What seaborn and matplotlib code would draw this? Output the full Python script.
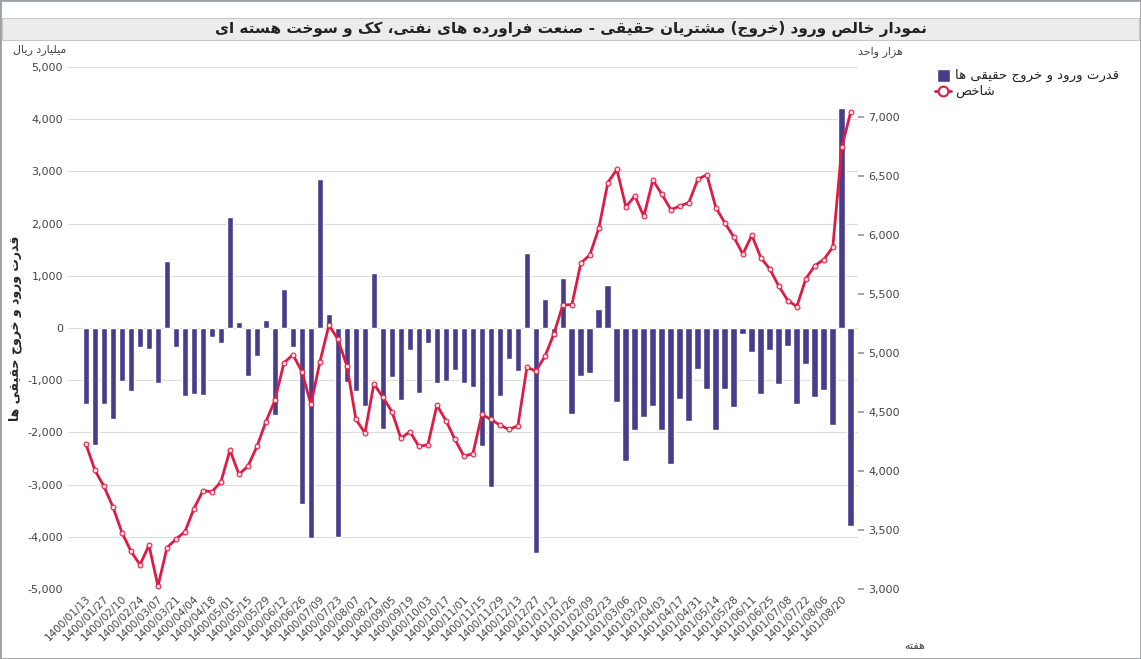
import numpy as np
import pandas as pd
import matplotlib
matplotlib.use("Agg")
import matplotlib.pyplot as plt
from matplotlib.patches import Rectangle
import seaborn as sns

flows = [-1450,-2235,-1450,-1735,-1010,-1215,-370,-400,-1045,1285,-355,-1310,-1260,-1285,-165,-285,
         2120,110,-915,-545,155,-1665,740,-355,-3365,-4030,2855,275,-4010,-1025,-1215,-1490,1045,
         -1930,-945,-1380,-425,-1245,-285,-1050,-1010,-805,-1050,-1125,-2255,-3040,-1305,-595,-825,
         1430,-4305,550,-170,950,-1650,-925,-855,360,815,-1415,-2545,-1950,-1700,-1490,-1950,-2610,
         -1355,-1785,-785,-1170,-1950,-1170,-1505,-115,-460,-1265,-420,-1070,-350,-1450,-690,-1320,
         -1195,-1855,4215,-3790]
index_vals = [4226,4005,3869,3694,3477,3320,3205,3371,3024,3350,3423,3486,3682,3833,3824,3909,
              4177,3972,4041,4208,4419,4600,4917,4986,4841,4564,4926,5237,5116,4890,4437,4322,4739,
              4624,4503,4277,4334,4208,4223,4558,4428,4268,4126,4147,4479,4437,4389,4352,4383,4878,
              4848,4971,5162,5409,5409,5762,5832,6058,6445,6556,6239,6330,6158,6466,6345,6215,6245,
              6275,6472,6511,6233,6103,5983,5838,5998,5808,5711,5566,5445,5394,5629,5741,5792,5898,
              6746,7045]
tick_labels = ["1400/01/13","1400/01/27","1400/02/10","1400/02/24","1400/03/07","1400/03/21",
               "1400/04/04","1400/04/18","1400/05/01","1400/05/15","1400/05/29","1400/06/12",
               "1400/06/26","1400/07/09","1400/07/23","1400/08/07","1400/08/21","1400/09/05",
               "1400/09/19","1400/10/03","1400/10/17","1400/11/01","1400/11/15","1400/11/29",
               "1400/12/13","1400/12/27","1401/01/12","1401/01/26","1401/02/09","1401/02/23",
               "1401/03/06","1401/03/20","1401/04/03","1401/04/17","1401/04/31","1401/05/14",
               "1401/05/28","1401/06/11","1401/06/25","1401/07/08","1401/07/22","1401/08/06",
               "1401/08/20"]

TITLE = "نمودار خالص ورود (خروج) مشتریان حقیقی - صنعت فراورده های نفتی، کک و سوخت هسته ای"
BAR_NAME = "قدرت ورود و خروج حقیقی ها"
LINE_NAME = "شاخص"

# --- minimal Persian shaper ---
DUAL = {'ب':(0xFE8F,0xFE90,0xFE91,0xFE92),'پ':(0xFB56,0xFB57,0xFB58,0xFB59),'ت':(0xFE95,0xFE96,0xFE97,0xFE98),
        'ث':(0xFE99,0xFE9A,0xFE9B,0xFE9C),'ج':(0xFE9D,0xFE9E,0xFE9F,0xFEA0),'چ':(0xFB7A,0xFB7B,0xFB7C,0xFB7D),
        'ح':(0xFEA1,0xFEA2,0xFEA3,0xFEA4),'خ':(0xFEA5,0xFEA6,0xFEA7,0xFEA8),'س':(0xFEB1,0xFEB2,0xFEB3,0xFEB4),
        'ش':(0xFEB5,0xFEB6,0xFEB7,0xFEB8),'ص':(0xFEB9,0xFEBA,0xFEBB,0xFEBC),'ض':(0xFEBD,0xFEBE,0xFEBF,0xFEC0),
        'ط':(0xFEC1,0xFEC2,0xFEC3,0xFEC4),'ظ':(0xFEC5,0xFEC6,0xFEC7,0xFEC8),'ع':(0xFEC9,0xFECA,0xFECB,0xFECC),
        'غ':(0xFECD,0xFECE,0xFECF,0xFED0),'ف':(0xFED1,0xFED2,0xFED3,0xFED4),'ق':(0xFED5,0xFED6,0xFED7,0xFED8),
        'ک':(0xFB8E,0xFB8F,0xFB90,0xFB91),'گ':(0xFB92,0xFB93,0xFB94,0xFB95),'ل':(0xFEDD,0xFEDE,0xFEDF,0xFEE0),
        'م':(0xFEE1,0xFEE2,0xFEE3,0xFEE4),'ن':(0xFEE5,0xFEE6,0xFEE7,0xFEE8),'ه':(0xFEE9,0xFEEA,0xFEEB,0xFEEC),
        'ی':(0xFBFC,0xFBFD,0xFBFE,0xFBFF)}
RIGHT = {'ا':(0xFE8D,0xFE8E),'آ':(0xFE81,0xFE82),'د':(0xFEA9,0xFEAA),'ذ':(0xFEAB,0xFEAC),'ر':(0xFEAD,0xFEAE),
         'ز':(0xFEAF,0xFEB0),'ژ':(0xFB8A,0xFB8B),'و':(0xFEED,0xFEEE)}

def shape(s):
    out = []
    n = len(s)
    for i, c in enumerate(s):
        prev = s[i-1] if i > 0 else ''
        nxt = s[i+1] if i < n-1 else ''
        jp = prev in DUAL
        if c in DUAL:
            jn = nxt in DUAL or nxt in RIGHT
            f = DUAL[c]
            if jp and jn: out.append(chr(f[3]))
            elif jp: out.append(chr(f[1]))
            elif jn: out.append(chr(f[2]))
            else: out.append(chr(f[0]))
        elif c in RIGHT:
            f = RIGHT[c]
            out.append(chr(f[1]) if jp else chr(f[0]))
        else:
            out.append(c)
    r = ''.join(out)[::-1]
    return r.translate(str.maketrans('()', ')('))

sns.set_theme(style="white")
plt.rcParams['font.family'] = ['DejaVu Sans']

df = pd.DataFrame({"i": np.arange(len(flows)), "flow": flows, "idx": index_vals})

fig = plt.figure(figsize=(11.41, 6.59), dpi=100)
fig.patches.append(Rectangle((0, 0), 1, 1, transform=fig.transFigure, fill=False, ec="#9aa0a6", lw=2))
fig.patches.append(Rectangle((0.002, 1-40/659), 0.996, 22/659, transform=fig.transFigure,
                             fc="#ececec", ec="#c8c8c8", lw=0.8))
fig.text(0.5, 1-29/659, shape(TITLE), ha="center", va="center", fontsize=11, fontweight="bold", color="#222")

ax = fig.add_axes([68/1141, 1-589/659, 790/1141, 522/659])
sns.barplot(data=df, x="i", y="flow", color="#483d8b", saturation=1, width=0.75, ax=ax)
ax.set_xlim(-2, 85.8)
ax.set_ylim(-5000, 5000)
ax.set_yticks(np.arange(-5000, 5001, 1000))
ax.set_yticklabels([f"{v:,}" for v in range(-5000, 5001, 1000)], fontsize=8, color="#444")
ax.yaxis.grid(True, color="#dddddd", lw=0.8)
ax.set_axisbelow(True)
ax.set_xticks(np.arange(0, 2*len(tick_labels), 2))
ax.set_xticklabels(tick_labels, rotation=45, ha="right", rotation_mode="anchor", fontsize=7.5, color="#444")
ax.tick_params(axis="x", length=0, pad=3)
ax.tick_params(axis="y", length=0)
ax.set_xlabel("")
ax.set_ylabel(shape(BAR_NAME), fontsize=9, fontweight="bold", labelpad=4)
for s in ax.spines.values():
    s.set_visible(False)

ax2 = ax.twinx()
sns.lineplot(data=df, x="i", y="idx", color="#dc1c44", lw=2, marker="o", markersize=3.5,
             markerfacecolor="#f8d8de", markeredgecolor="#dc1c44", ax=ax2)
ax2.set_ylim(3000, 7424)
ax2.set_yticks(np.arange(3000, 7001, 500))
ax2.set_yticklabels([f"{v:,}" for v in range(3000, 7001, 500)], fontsize=8, color="#444")
ax2.tick_params(axis="y", length=4, color="#999")
ax2.set_ylabel("")
ax2.set_xlabel("")
for s in ax2.spines.values():
    s.set_visible(False)

fig.text(40/1141, 1-50/659, shape("میلیارد ریال"), ha="center", va="center", fontsize=8, color="#444")
fig.text(880/1141, 1-52/659, shape("هزار واحد"), ha="center", va="center", fontsize=8, color="#444")
fig.text(915/1141, 1-646/659, shape("هفته"), ha="center", va="center", fontsize=8, color="#444")

# legend
fig.patches.append(Rectangle((937/1141, 1-82/659), 13/1141, 13/659, transform=fig.transFigure, fc="#483d8b"))
fig.text(955/1141, 1-75/659, shape(BAR_NAME), ha="left", va="center", fontsize=9.5, color="#222")
fig.lines.append(plt.Line2D([935/1141, 951/1141], [1-91/659, 1-91/659], transform=fig.transFigure,
                            color="#dc1c44", lw=2))
fig.lines.append(plt.Line2D([943/1141], [1-91/659], transform=fig.transFigure, color="#dc1c44",
                            marker="o", markersize=7, markerfacecolor="white", markeredgewidth=1.5))
fig.text(955/1141, 1-91/659, shape(LINE_NAME), ha="left", va="center", fontsize=9.5, color="#222")

fig.savefig("out.png", dpi=100)
